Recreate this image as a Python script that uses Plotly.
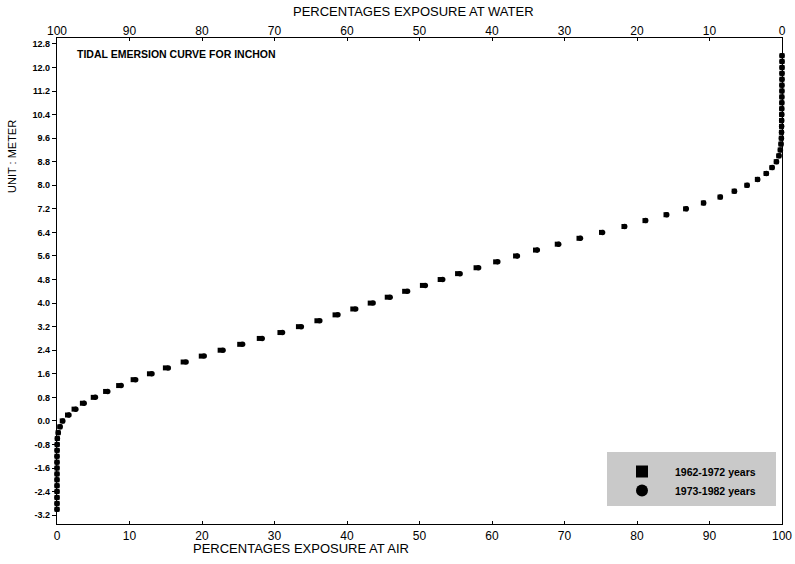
import plotly.graph_objects as go

# Tide level (m) for each plotted point
levels = [-3.0, -2.8, -2.6, -2.4, -2.2, -2.0, -1.8, -1.6, -1.4, -1.2,
          -1.0, -0.8, -0.6, -0.4, -0.2, 0.0, 0.2, 0.4, 0.6, 0.8,
          1.0, 1.2, 1.4, 1.6, 1.8, 2.0, 2.2, 2.4, 2.6, 2.8,
          3.0, 3.2, 3.4, 3.6, 3.8, 4.0, 4.2, 4.4, 4.6, 4.8,
          5.0, 5.2, 5.4, 5.6, 5.8, 6.0, 6.2, 6.4, 6.6, 6.8,
          7.0, 7.2, 7.4, 7.6, 7.8, 8.0, 8.2, 8.4, 8.6, 8.8,
          9.0, 9.2, 9.4, 9.6, 9.8, 10.0, 10.2, 10.4, 10.6, 10.8,
          11.0, 11.2, 11.4, 11.6, 11.8, 12.0, 12.2, 12.4]

# Percentage exposure at air, 1962-1972 (squares)
exposure_1962_1972 = [0.0, 0.0, 0.0, 0.0, 0.0, 0.0, 0.0, 0.0, 0.0, 0.0,
                      0.01, 0.02, 0.04, 0.15, 0.38, 0.72, 1.45, 2.35, 3.5, 5.0,
                      6.7, 8.5, 10.5, 12.75, 14.95, 17.4, 19.9, 22.5, 25.2, 27.9,
                      30.75, 33.3, 35.85, 38.35, 40.8, 43.2, 45.55, 47.95, 50.4, 52.85,
                      55.25, 57.8, 60.5, 63.25, 66.0, 69.0, 72.0, 75.1, 78.2, 81.1,
                      84.0, 86.7, 89.15, 91.45, 93.4, 95.15, 96.6, 97.8, 98.6, 99.2,
                      99.55, 99.75, 99.85, 99.9, 99.92, 99.93, 99.94, 99.95, 99.96, 99.97,
                      99.97, 99.98, 99.98, 99.99, 99.99, 100.0, 100.0, 100.0]

# Percentage exposure at air, 1973-1982 (circles)
exposure_1973_1982 = [0.0, 0.0, 0.0, 0.0, 0.0, 0.0, 0.0, 0.0, 0.0, 0.0,
                      0.01, 0.02, 0.05, 0.18, 0.44, 0.8, 1.65, 2.6, 3.75, 5.3,
                      7.0, 8.85, 10.85, 13.1, 15.35, 17.8, 20.3, 22.9, 25.6, 28.3,
                      31.1, 33.7, 36.25, 38.75, 41.2, 43.6, 45.95, 48.35, 50.8, 53.2,
                      55.6, 58.15, 60.8, 63.5, 66.25, 69.2, 72.2, 75.25, 78.3, 81.2,
                      84.1, 86.8, 89.2, 91.5, 93.45, 95.2, 96.65, 97.85, 98.65, 99.25,
                      99.6, 99.78, 99.87, 99.92, 99.94, 99.95, 99.96, 99.97, 99.97, 99.98,
                      99.98, 99.99, 99.99, 100.0, 100.0, 100.0, 100.0, 100.0]

x_ticks = [0, 10, 20, 30, 40, 50, 60, 70, 80, 90, 100]
x_top_labels = ["100", "90", "80", "70", "60", "50", "40", "30", "20", "10", "0"]
y_ticks = [-3.2, -2.4, -1.6, -0.8, 0.0, 0.8, 1.6, 2.4, 3.2, 4.0, 4.8, 5.6,
           6.4, 7.2, 8.0, 8.8, 9.6, 10.4, 11.2, 12.0, 12.8]
y_tick_labels = ["-3.2", "-2.4", "-1.6", "-0.8", "0.0", "0.8", "1.6", "2.4",
                 "3.2", "4.0", "4.8", "5.6", "6.4", "7.2", "8.0", "8.8",
                 "9.6", "10.4", "11.2", "12.0", "12.8"]
series_names = ["1962-1972 years", "1973-1982 years"]

FONT = "Liberation Sans, Arial, sans-serif"

# plot area in reference pixels
PL, PR, PT, PB = 57, 782, 38, 524
PW, PH = PR - PL, PB - PT


def px(x):
    return (x - PL) / PW


def py(y):
    return (PB - y) / PH


fig = go.Figure()
fig.add_trace(go.Scatter(x=exposure_1962_1972, y=levels, mode="markers",
                         marker=dict(symbol="square", size=5, color="black"),
                         showlegend=False, cliponaxis=False))
fig.add_trace(go.Scatter(x=exposure_1973_1982, y=levels, mode="markers",
                         marker=dict(symbol="circle", size=5.5, color="black"),
                         showlegend=False, cliponaxis=False))
# legend entries with larger symbols
fig.add_trace(go.Scatter(x=[None], y=[None], mode="markers", name=series_names[0],
                         marker=dict(symbol="square", size=12, color="black")))
fig.add_trace(go.Scatter(x=[None], y=[None], mode="markers", name=series_names[1],
                         marker=dict(symbol="circle", size=12, color="black")))
# dummy trace to activate top axis
fig.add_trace(go.Scatter(x=[None], y=[None], xaxis="x2", showlegend=False))

fig.update_layout(
    width=795, height=564,
    margin=dict(l=PL, r=795 - PR, t=PT, b=564 - PB),
    paper_bgcolor="white", plot_bgcolor="white",
    font=dict(family=FONT, color="black"),
    xaxis=dict(range=[0, 100], tickvals=x_ticks, ticks="inside", ticklen=3,
               tickcolor="black", showline=True, linecolor="black", linewidth=1.3,
               mirror=True, showgrid=False, zeroline=False, automargin=False,
               tickfont=dict(size=12, family=FONT)),
    xaxis2=dict(range=[0, 100], overlaying="x", side="top", tickvals=x_ticks,
                ticktext=x_top_labels, ticks="inside", ticklen=3, tickcolor="black",
                showline=False, showgrid=False, zeroline=False, automargin=False,
                tickfont=dict(size=12, family=FONT)),
    yaxis=dict(range=[-3.5, 13.0], tickvals=y_ticks, ticktext=y_tick_labels,
               ticks="outside", ticklen=4, tickcolor="black", showline=True,
               linecolor="black", linewidth=1.3, mirror=True, showgrid=False,
               zeroline=False, automargin=False,
               tickfont=dict(size=9, family=FONT, weight="bold")),
    legend=dict(x=px(609), y=py(457), xanchor="left", yanchor="top",
                bgcolor="rgba(0,0,0,0)", itemwidth=56,
                font=dict(size=10.5, family=FONT, weight="bold"),
                tracegroupgap=0),
    shapes=[dict(type="rect", xref="paper", yref="paper",
                 x0=px(607), x1=px(776), y0=py(506), y1=py(452),
                 fillcolor="#c9c9c9", line=dict(width=0), layer="below")],
    annotations=[
        dict(text="<b>TIDAL EMERSION CURVE FOR INCHON</b>", xref="paper", yref="paper",
             x=px(75), y=py(54), xanchor="left", yanchor="middle",
             showarrow=False, font=dict(size=10.5, family=FONT)),
        dict(text="PERCENTAGES EXPOSURE AT AIR", xref="paper", yref="paper",
             x=px(301), y=py(548), xanchor="center", yanchor="middle",
             showarrow=False, font=dict(size=13, family=FONT)),
        dict(text="PERCENTAGES EXPOSURE AT WATER", xref="paper", yref="paper",
             x=px(413), y=py(12), xanchor="center", yanchor="middle",
             showarrow=False, font=dict(size=13, family=FONT)),
        dict(text="UNIT : METER", xref="paper", yref="paper",
             x=px(12), y=py(157), xanchor="center", yanchor="middle",
             textangle=-90, showarrow=False, font=dict(size=11, family=FONT)),
    ],
)

fig.write_html("out.html", config={"displayModeBar": False},
               post_script="document.body.style.margin='0';document.body.style.overflow='hidden';")
